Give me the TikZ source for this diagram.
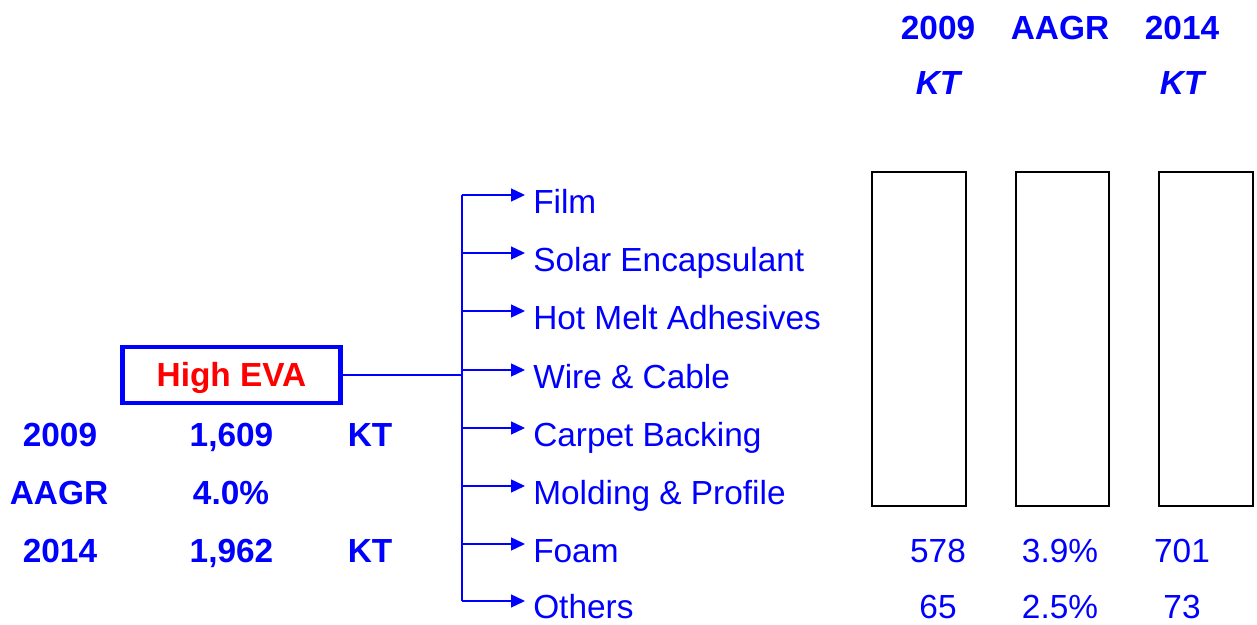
\documentclass[tikz,border=0pt]{standalone}
\usepackage{fontspec}
\setmainfont{Liberation Sans}
\usetikzlibrary{arrows.meta, positioning}
\definecolor{evablue}{RGB}{0,0,255}
\definecolor{evared}{RGB}{255,0,0}

\begin{document}
\begin{tikzpicture}[
			txt/.style={
				text=evablue,
				inner sep=0pt,
				anchor=base,
				font=\fontsize{19}{23}\selectfont
			},
			txtbold/.style={txt, font=\fontsize{19}{23}\selectfont\bfseries},
			unit/.style={txt, font=\fontsize{19}{23}\selectfont\bfseries\itshape},
			item/.style={txt, anchor=base west, inner xsep=4.5pt},
			evabox/.style={
				draw=evablue,
				line width=2.8pt,
				minimum width=4.36cm,
				minimum height=1.12cm,
				text height=0.58cm,
				text depth=0.1cm,
				text=evared,
				font=\fontsize{19}{23}\selectfont\bfseries
			},
			bar/.style={draw=black, line width=1.1pt},
			conn/.style={draw=evablue, line width=0.8pt},
			arrow/.style={conn, -{Triangle[length=2.8mm, width=2.6mm]}}
			]
			
			\useasboundingbox (0,0) rectangle (25.14,12.5);
			
			% column heads
			\node[txtbold] (h2009) at (18.76,11.7) {2009};
			\node[txtbold] (haagr) at (21.2,11.7) {AAGR};
			\node[txtbold] (h2014) at (23.64,11.7) {2014};
			\node[unit] (hkt1) at (18.76,10.6) {KT};
			\node[unit] (hkt2) at (23.64,10.6) {KT};
			
			% empty columns
			\draw[bar] (17.44,9.06) rectangle (19.32,2.38);
			\draw[bar] (20.32,9.06) rectangle (22.18,2.38);
			\draw[bar] (23.18,9.06) rectangle (25.06,2.38);
			
			% source box
			\node[evabox] (eva) at (4.63,5.0) {High EVA};
			
			% branch points
			\coordinate (b1) at (9.24,8.6);
			\coordinate (b2) at (9.24,7.44);
			\coordinate (b3) at (9.24,6.28);
			\coordinate (b4) at (9.24,5.1);
			\coordinate (b5) at (9.24,3.94);
			\coordinate (b6) at (9.24,2.78);
			\coordinate (b7) at (9.24,1.62);
			\coordinate (b8) at (9.24,0.48);
			
			\node[item] (film) at (10.5,8.22) {Film};
			\node[item] (solar) at (10.5,7.06) {Solar Encapsulant};
			\node[item] (hotmelt) at (10.5,5.9) {Hot Melt Adhesives};
			\node[item] (wire) at (10.5,4.72) {Wire \& Cable};
			\node[item] (carpet) at (10.5,3.56) {Carpet Backing};
			\node[item] (molding) at (10.5,2.4) {Molding \& Profile};
			\node[item] (foam) at (10.5,1.24) {Foam};
			\node[item] (others) at (10.5,0.12) {Others};
			
			\draw[conn] (eva.east) -- (eva.east -| b4);
			\draw[conn] (b1) -- (b8);
			
			\draw[arrow] (b1) -- (b1 -| film.west);
			\draw[arrow] (b2) -- (b2 -| solar.west);
			\draw[arrow] (b3) -- (b3 -| hotmelt.west);
			\draw[arrow] (b4) -- (b4 -| wire.west);
			\draw[arrow] (b5) -- (b5 -| carpet.west);
			\draw[arrow] (b6) -- (b6 -| molding.west);
			\draw[arrow] (b7) -- (b7 -| foam.west);
			\draw[arrow] (b8) -- (b8 -| others.west);
			
			% totals
			\node[txtbold] (y2009) at (1.2,3.56) {2009};
			\node[txtbold] (v2009) at (4.63,3.56) {1,609};
			\node[txtbold] (u2009) at (7.4,3.56) {KT};
			\node[txtbold] (yaagr) at (1.18,2.4) {AAGR};
			\node[txtbold] (vaagr) at (4.62,2.4) {4.0\%};
			\node[txtbold] (y2014) at (1.2,1.24) {2014};
			\node[txtbold] (v2014) at (4.63,1.24) {1,962};
			\node[txtbold] (u2014) at (7.4,1.24) {KT};
			
			% figures
			\node[txt] (foam09) at (18.76,1.24) {578};
			\node[txt] (foamgr) at (21.2,1.24) {3.9\%};
			\node[txt] (foam14) at (23.64,1.24) {701};
			\node[txt] (oth09) at (18.76,0.12) {65};
			\node[txt] (othgr) at (21.2,0.12) {2.5\%};
			\node[txt] (oth14) at (23.64,0.12) {73};
			
		\end{tikzpicture}
\end{document}
